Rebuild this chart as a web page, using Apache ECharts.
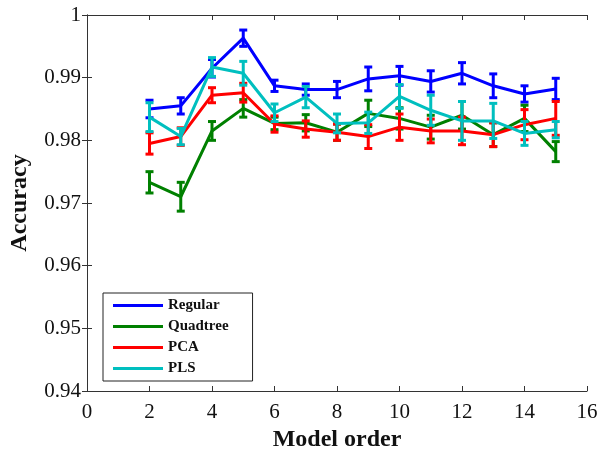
<!DOCTYPE html>
<html>
<head>
<meta charset="utf-8">
<script src="https://cdn.jsdelivr.net/npm/echarts@6/dist/echarts.min.js"></script>
<style>
  html, body { margin: 0; padding: 0; background: #fff; }
  #chart { width: 600px; height: 453px; }
</style>
</head>
<body>
<div id="chart"></div>
<script>
// Model orders evaluated
const modelOrder = [2, 3, 4, 5, 6, 7, 8, 9, 10, 11, 12, 13, 14, 15];

// Mean accuracy per method
const regular  = [0.9850, 0.9855, 0.9915, 0.9963, 0.9887, 0.9881, 0.9881, 0.9898, 0.9903, 0.9894, 0.9907, 0.9887, 0.9874, 0.9882];
const quadtree = [0.9733, 0.9710, 0.9815, 0.9851, 0.9827, 0.9828, 0.9813, 0.9843, 0.9835, 0.9821, 0.9840, 0.9809, 0.9835, 0.9782];
const pca      = [0.9795, 0.9806, 0.9872, 0.9876, 0.9826, 0.9818, 0.9813, 0.9806, 0.9821, 0.9815, 0.9815, 0.9809, 0.9825, 0.9835];
const pls      = [0.9837, 0.9806, 0.9917, 0.9907, 0.9844, 0.9869, 0.9827, 0.9828, 0.9870, 0.9848, 0.9831, 0.9831, 0.9811, 0.9817];

// Half-width of the error bars
const regularErr  = [0.0014, 0.0013, 0.0014, 0.0013, 0.0009, 0.0009, 0.0013, 0.0019, 0.0015, 0.0017, 0.0017, 0.0019, 0.0013, 0.0017];
const quadtreeErr = [0.0017, 0.0023, 0.0015, 0.0014, 0.0010, 0.0013, 0.0013, 0.0021, 0.0017, 0.0019, 0.0022, 0.0019, 0.0021, 0.0016];
const pcaErr      = [0.0017, 0.0014, 0.0012, 0.0015, 0.0013, 0.0013, 0.0013, 0.0019, 0.0021, 0.0019, 0.0022, 0.0019, 0.0024, 0.0027];
const plsErr      = [0.0023, 0.0013, 0.0015, 0.0019, 0.0014, 0.0017, 0.0015, 0.0017, 0.0019, 0.0024, 0.0031, 0.0028, 0.0019, 0.0013];

// Axis ticks
const xTicks = [0, 2, 4, 6, 8, 10, 12, 14, 16];
const yTicks = [0.94, 0.95, 0.96, 0.97, 0.98, 0.99, 1];

const methods = [
  { name: 'Regular',  values: regular,  errs: regularErr,  color: '#0000ff' },
  { name: 'Quadtree', values: quadtree, errs: quadtreeErr, color: '#008000' },
  { name: 'PCA',      values: pca,      errs: pcaErr,      color: '#ff0000' },
  { name: 'PLS',      values: pls,      errs: plsErr,      color: '#00bfbf' }
];

const serif = '"Liberation Serif", "DejaVu Serif", serif';
const axisColor = '#333';

function errorBarRenderer(color) {
  return function (params, api) {
    const x = api.value(0);
    const lo = api.coord([x, api.value(1)]);
    const hi = api.coord([x, api.value(2)]);
    const cap = 4;
    const style = { stroke: color, lineWidth: 3 };
    return {
      type: 'group',
      children: [
        { type: 'line', shape: { x1: lo[0], y1: lo[1], x2: hi[0], y2: hi[1] }, style: style },
        { type: 'line', shape: { x1: lo[0] - cap, y1: lo[1], x2: lo[0] + cap, y2: lo[1] }, style: style },
        { type: 'line', shape: { x1: hi[0] - cap, y1: hi[1], x2: hi[0] + cap, y2: hi[1] }, style: style }
      ]
    };
  };
}

const series = [];
methods.forEach((m, i) => {
  series.push({
    name: m.name,
    type: 'line',
    data: modelOrder.map((x, k) => [x, m.values[k]]),
    showSymbol: false,
    symbol: 'none',
    lineStyle: { color: m.color, width: 3 },
    itemStyle: { color: m.color },
    z: 2 + i,
    animation: false
  });
  series.push({
    name: m.name,
    type: 'custom',
    renderItem: errorBarRenderer(m.color),
    data: modelOrder.map((x, k) => [x, m.values[k] - m.errs[k], m.values[k] + m.errs[k]]),
    encode: { x: 0, y: [1, 2] },
    z: 2 + i,
    animation: false
  });
});

const yFmt = v => String(parseFloat(v.toFixed(2)));

const chart = echarts.init(document.getElementById('chart'));
chart.setOption({
  animation: false,
  backgroundColor: '#fff',
  grid: { left: 87, right: 13, top: 15, bottom: 62, containLabel: false, outerBoundsMode: 'none' },
  legend: {
    left: 103, top: 293,
    orient: 'vertical',
    padding: [5, 24, 5, 10],
    itemGap: 6,
    itemWidth: 50,
    itemHeight: 14,
    backgroundColor: '#fff',
    borderColor: '#222',
    borderWidth: 1,
    icon: 'path://M0,5.5 L50,5.5 L50,8.5 L0,8.5 Z',
    data: methods.map(m => ({ name: m.name, itemStyle: { color: m.color } })),
    textStyle: { fontFamily: serif, fontWeight: 'bold', fontSize: 15, color: '#111' }
  },
  xAxis: [
    {
      type: 'value', min: xTicks[0], max: xTicks[xTicks.length - 1], interval: 2,
      name: 'Model order', nameLocation: 'middle', nameGap: 35,
      nameTextStyle: { fontFamily: serif, fontWeight: 'bold', fontSize: 24, color: '#111' },
      axisLine: { show: true, lineStyle: { color: axisColor, width: 1 } },
      axisTick: { show: true, inside: true, length: 5, lineStyle: { color: axisColor } },
      axisLabel: { fontFamily: serif, fontSize: 21, color: '#111', margin: 11 },
      splitLine: { show: false }
    },
    {
      type: 'value', position: 'top', min: xTicks[0], max: xTicks[xTicks.length - 1], interval: 2,
      axisLine: { show: true, lineStyle: { color: axisColor, width: 1 } },
      axisTick: { show: true, inside: true, length: 5, lineStyle: { color: axisColor } },
      axisLabel: { show: false },
      splitLine: { show: false }
    }
  ],
  yAxis: [
    {
      type: 'value', min: yTicks[0], max: yTicks[yTicks.length - 1], interval: 0.01,
      name: 'Accuracy', nameLocation: 'middle', nameGap: 55, nameRotate: 90,
      nameTextStyle: { fontFamily: serif, fontWeight: 'bold', fontSize: 24, color: '#111' },
      axisLine: { show: true, lineStyle: { color: axisColor, width: 1 } },
      axisTick: { show: true, inside: true, length: 5, lineStyle: { color: axisColor } },
      axisLabel: { fontFamily: serif, fontSize: 21, color: '#111', margin: 6, padding: [3, 0, 0, 0], formatter: yFmt },
      splitLine: { show: false }
    },
    {
      type: 'value', position: 'right', min: yTicks[0], max: yTicks[yTicks.length - 1], interval: 0.01,
      axisLine: { show: true, lineStyle: { color: axisColor, width: 1 } },
      axisTick: { show: true, inside: true, length: 5, lineStyle: { color: axisColor } },
      axisLabel: { show: false },
      splitLine: { show: false }
    }
  ],
  series: series
});
</script>
</body>
</html>
